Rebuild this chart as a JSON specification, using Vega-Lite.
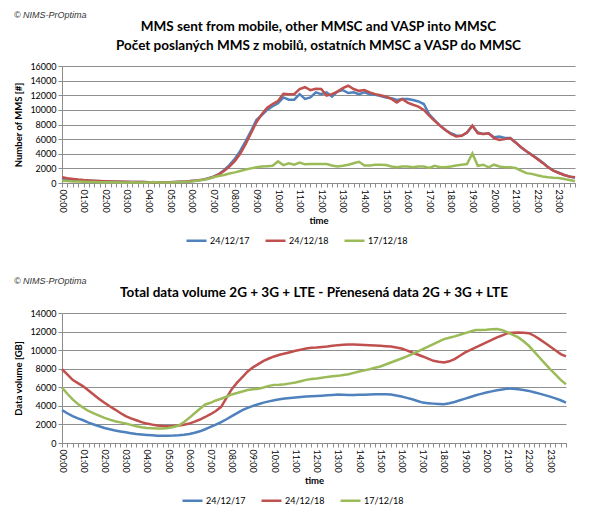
{
  "$schema": "https://vega.github.io/schema/vega-lite/v6.json",
  "padding": {"left": 13, "top": 10, "right": 5, "bottom": 2},
  "background": "white",
  "config": {
    "font": "Lato",
    "view": {"stroke": null},
    "axis": {
      "labelFont": "Lato", "labelFontSize": 9, "labelColor": "#000",
      "titleFont": "Lato", "titleFontSize": 9.5, "titleFontWeight": "bold", "titleColor": "#000",
      "domainColor": "#8c8c8c", "tickColor": "#8c8c8c", "gridColor": "#8f8f8f", "gridOpacity": 1
    },
    "axisX": {"grid": false, "labelAngle": 90, "tickSize": 4, "labelOverlap": false, "labelPadding": 2, "titlePadding": 3},
    "axisY": {"tickSize": 4, "titlePadding": 6},
    "legend": {
      "labelFont": "Lato", "labelFontSize": 9, "labelColor": "#000",
      "symbolType": "stroke", "symbolSize": 400, "symbolStrokeWidth": 3.5,
      "columnPadding": 10, "labelOffset": 2, "offset": 4,
      "layout": {"bottom": {"anchor": "middle"}}
    },
    "title": {"font": "Lato", "color": "#000"},
    "line": {"strokeWidth": 2.5}
  },
  "datasets": {
    "mms": [
      {"t": "00:00", "24/12/17": 600, "24/12/18": 780, "17/12/18": 320},
      {"t": "00:15", "24/12/17": 520, "24/12/18": 660, "17/12/18": 260},
      {"t": "00:30", "24/12/17": 450, "24/12/18": 560, "17/12/18": 220},
      {"t": "00:45", "24/12/17": 390, "24/12/18": 470, "17/12/18": 190},
      {"t": "01:00", "24/12/17": 340, "24/12/18": 400, "17/12/18": 160},
      {"t": "01:15", "24/12/17": 300, "24/12/18": 350, "17/12/18": 140},
      {"t": "01:30", "24/12/17": 270, "24/12/18": 310, "17/12/18": 120},
      {"t": "01:45", "24/12/17": 240, "24/12/18": 280, "17/12/18": 110},
      {"t": "02:00", "24/12/17": 220, "24/12/18": 250, "17/12/18": 100},
      {"t": "02:15", "24/12/17": 200, "24/12/18": 220, "17/12/18": 90},
      {"t": "02:30", "24/12/17": 180, "24/12/18": 200, "17/12/18": 110},
      {"t": "02:45", "24/12/17": 160, "24/12/18": 180, "17/12/18": 80},
      {"t": "03:00", "24/12/17": 150, "24/12/18": 160, "17/12/18": 70},
      {"t": "03:15", "24/12/17": 140, "24/12/18": 150, "17/12/18": 100},
      {"t": "03:30", "24/12/17": 130, "24/12/18": 130, "17/12/18": 60},
      {"t": "03:45", "24/12/17": 120, "24/12/18": 120, "17/12/18": 60},
      {"t": "04:00", "24/12/17": 110, "24/12/18": 110, "17/12/18": 60},
      {"t": "04:15", "24/12/17": 100, "24/12/18": 100, "17/12/18": 150},
      {"t": "04:30", "24/12/17": 100, "24/12/18": 100, "17/12/18": 60},
      {"t": "04:45", "24/12/17": 100, "24/12/18": 100, "17/12/18": 60},
      {"t": "05:00", "24/12/17": 110, "24/12/18": 110, "17/12/18": 70},
      {"t": "05:15", "24/12/17": 130, "24/12/18": 130, "17/12/18": 90},
      {"t": "05:30", "24/12/17": 160, "24/12/18": 160, "17/12/18": 120},
      {"t": "05:45", "24/12/17": 200, "24/12/18": 200, "17/12/18": 160},
      {"t": "06:00", "24/12/17": 270, "24/12/18": 270, "17/12/18": 220},
      {"t": "06:15", "24/12/17": 350, "24/12/18": 350, "17/12/18": 300},
      {"t": "06:30", "24/12/17": 460, "24/12/18": 460, "17/12/18": 400},
      {"t": "06:45", "24/12/17": 620, "24/12/18": 600, "17/12/18": 550},
      {"t": "07:00", "24/12/17": 850, "24/12/18": 820, "17/12/18": 780},
      {"t": "07:15", "24/12/17": 1200, "24/12/18": 1150, "17/12/18": 950},
      {"t": "07:30", "24/12/17": 1750, "24/12/18": 1650, "17/12/18": 1100},
      {"t": "07:45", "24/12/17": 2450, "24/12/18": 2250, "17/12/18": 1300},
      {"t": "08:00", "24/12/17": 3300, "24/12/18": 3000, "17/12/18": 1450},
      {"t": "08:15", "24/12/17": 4400, "24/12/18": 4000, "17/12/18": 1650},
      {"t": "08:30", "24/12/17": 5700, "24/12/18": 5300, "17/12/18": 1850},
      {"t": "08:45", "24/12/17": 7100, "24/12/18": 6800, "17/12/18": 2000},
      {"t": "09:00", "24/12/17": 8600, "24/12/18": 8300, "17/12/18": 2150},
      {"t": "09:15", "24/12/17": 9300, "24/12/18": 9400, "17/12/18": 2250},
      {"t": "09:30", "24/12/17": 10000, "24/12/18": 10300, "17/12/18": 2300},
      {"t": "09:45", "24/12/17": 10500, "24/12/18": 10800, "17/12/18": 2350},
      {"t": "10:00", "24/12/17": 10900, "24/12/18": 11200, "17/12/18": 2950},
      {"t": "10:15", "24/12/17": 11700, "24/12/18": 12200, "17/12/18": 2450},
      {"t": "10:30", "24/12/17": 11400, "24/12/18": 12150, "17/12/18": 2700},
      {"t": "10:45", "24/12/17": 11400, "24/12/18": 12150, "17/12/18": 2500},
      {"t": "11:00", "24/12/17": 12150, "24/12/18": 12850, "17/12/18": 2800},
      {"t": "11:15", "24/12/17": 11500, "24/12/18": 13100, "17/12/18": 2550},
      {"t": "11:30", "24/12/17": 11700, "24/12/18": 12700, "17/12/18": 2600},
      {"t": "11:45", "24/12/17": 12400, "24/12/18": 12900, "17/12/18": 2600},
      {"t": "12:00", "24/12/17": 12150, "24/12/18": 12850, "17/12/18": 2600},
      {"t": "12:15", "24/12/17": 12400, "24/12/18": 11950, "17/12/18": 2600},
      {"t": "12:30", "24/12/17": 11800, "24/12/18": 12150, "17/12/18": 2400},
      {"t": "12:45", "24/12/17": 12500, "24/12/18": 12500, "17/12/18": 2250},
      {"t": "13:00", "24/12/17": 12700, "24/12/18": 12980, "17/12/18": 2350},
      {"t": "13:15", "24/12/17": 12300, "24/12/18": 13300, "17/12/18": 2500},
      {"t": "13:30", "24/12/17": 12400, "24/12/18": 12850, "17/12/18": 2700},
      {"t": "13:45", "24/12/17": 12150, "24/12/18": 12600, "17/12/18": 2900},
      {"t": "14:00", "24/12/17": 12400, "24/12/18": 12700, "17/12/18": 2400},
      {"t": "14:15", "24/12/17": 12150, "24/12/18": 12400, "17/12/18": 2400},
      {"t": "14:30", "24/12/17": 12050, "24/12/18": 12150, "17/12/18": 2500},
      {"t": "14:45", "24/12/17": 11900, "24/12/18": 12000, "17/12/18": 2500},
      {"t": "15:00", "24/12/17": 11700, "24/12/18": 11800, "17/12/18": 2450},
      {"t": "15:15", "24/12/17": 11600, "24/12/18": 11500, "17/12/18": 2250},
      {"t": "15:30", "24/12/17": 11350, "24/12/18": 11000, "17/12/18": 2150},
      {"t": "15:45", "24/12/17": 11500, "24/12/18": 11500, "17/12/18": 2250},
      {"t": "16:00", "24/12/17": 11500, "24/12/18": 11000, "17/12/18": 2250},
      {"t": "16:15", "24/12/17": 11350, "24/12/18": 10700, "17/12/18": 2150},
      {"t": "16:30", "24/12/17": 11150, "24/12/18": 10450, "17/12/18": 2250},
      {"t": "16:45", "24/12/17": 10800, "24/12/18": 10000, "17/12/18": 2250},
      {"t": "17:00", "24/12/17": 9400, "24/12/18": 9200, "17/12/18": 2050},
      {"t": "17:15", "24/12/17": 8600, "24/12/18": 8500, "17/12/18": 2350},
      {"t": "17:30", "24/12/17": 7850, "24/12/18": 7850, "17/12/18": 2150},
      {"t": "17:45", "24/12/17": 7250, "24/12/18": 7250, "17/12/18": 2150},
      {"t": "18:00", "24/12/17": 6800, "24/12/18": 6700, "17/12/18": 2250},
      {"t": "18:15", "24/12/17": 6500, "24/12/18": 6350, "17/12/18": 2400},
      {"t": "18:30", "24/12/17": 6450, "24/12/18": 6450, "17/12/18": 2500},
      {"t": "18:45", "24/12/17": 6900, "24/12/18": 6900, "17/12/18": 2600},
      {"t": "19:00", "24/12/17": 7800, "24/12/18": 7850, "17/12/18": 4050},
      {"t": "19:15", "24/12/17": 6900, "24/12/18": 6800, "17/12/18": 2350},
      {"t": "19:30", "24/12/17": 6700, "24/12/18": 6700, "17/12/18": 2500},
      {"t": "19:45", "24/12/17": 6800, "24/12/18": 6800, "17/12/18": 2150},
      {"t": "20:00", "24/12/17": 6250, "24/12/18": 6150, "17/12/18": 2500},
      {"t": "20:15", "24/12/17": 6350, "24/12/18": 5900, "17/12/18": 2250},
      {"t": "20:30", "24/12/17": 6150, "24/12/18": 6000, "17/12/18": 2150},
      {"t": "20:45", "24/12/17": 6150, "24/12/18": 6150, "17/12/18": 2150},
      {"t": "21:00", "24/12/17": 5550, "24/12/18": 5550, "17/12/18": 2050},
      {"t": "21:15", "24/12/17": 4900, "24/12/18": 4900, "17/12/18": 1700},
      {"t": "21:30", "24/12/17": 4350, "24/12/18": 4350, "17/12/18": 1350},
      {"t": "21:45", "24/12/17": 3850, "24/12/18": 3830, "17/12/18": 1250},
      {"t": "22:00", "24/12/17": 3350, "24/12/18": 3300, "17/12/18": 1050},
      {"t": "22:15", "24/12/17": 2800, "24/12/18": 2750, "17/12/18": 900},
      {"t": "22:30", "24/12/17": 2200, "24/12/18": 2150, "17/12/18": 780},
      {"t": "22:45", "24/12/17": 1700, "24/12/18": 1700, "17/12/18": 720},
      {"t": "23:00", "24/12/17": 1400, "24/12/18": 1370, "17/12/18": 680},
      {"t": "23:15", "24/12/17": 1100, "24/12/18": 1100, "17/12/18": 550},
      {"t": "23:30", "24/12/17": 900, "24/12/18": 870, "17/12/18": 420},
      {"t": "23:45", "24/12/17": 700, "24/12/18": 780, "17/12/18": 240}
    ],
    "vol": [
      {"t": "00:00", "24/12/17": 3540, "24/12/18": 7940, "17/12/18": 5960},
      {"t": "00:15", "24/12/17": 3200, "24/12/18": 7400, "17/12/18": 5300},
      {"t": "00:30", "24/12/17": 2890, "24/12/18": 6800, "17/12/18": 4690},
      {"t": "00:45", "24/12/17": 2650, "24/12/18": 6450, "17/12/18": 4200},
      {"t": "01:00", "24/12/17": 2450, "24/12/18": 6100, "17/12/18": 3790},
      {"t": "01:15", "24/12/17": 2200, "24/12/18": 5650, "17/12/18": 3450},
      {"t": "01:30", "24/12/17": 1990, "24/12/18": 5200, "17/12/18": 3180},
      {"t": "01:45", "24/12/17": 1800, "24/12/18": 4750, "17/12/18": 2950},
      {"t": "02:00", "24/12/17": 1620, "24/12/18": 4330, "17/12/18": 2710},
      {"t": "02:15", "24/12/17": 1480, "24/12/18": 3950, "17/12/18": 2520},
      {"t": "02:30", "24/12/17": 1340, "24/12/18": 3600, "17/12/18": 2350},
      {"t": "02:45", "24/12/17": 1250, "24/12/18": 3230, "17/12/18": 2220},
      {"t": "03:00", "24/12/17": 1160, "24/12/18": 2890, "17/12/18": 2090},
      {"t": "03:15", "24/12/17": 1060, "24/12/18": 2650, "17/12/18": 1950},
      {"t": "03:30", "24/12/17": 970, "24/12/18": 2450, "17/12/18": 1800},
      {"t": "03:45", "24/12/17": 920, "24/12/18": 2250, "17/12/18": 1700},
      {"t": "04:00", "24/12/17": 870, "24/12/18": 2090, "17/12/18": 1620},
      {"t": "04:15", "24/12/17": 830, "24/12/18": 1980, "17/12/18": 1580},
      {"t": "04:30", "24/12/17": 790, "24/12/18": 1880, "17/12/18": 1550},
      {"t": "04:45", "24/12/17": 790, "24/12/18": 1830, "17/12/18": 1570},
      {"t": "05:00", "24/12/17": 790, "24/12/18": 1800, "17/12/18": 1620},
      {"t": "05:15", "24/12/17": 800, "24/12/18": 1820, "17/12/18": 1730},
      {"t": "05:30", "24/12/17": 830, "24/12/18": 1880, "17/12/18": 1880},
      {"t": "05:45", "24/12/17": 890, "24/12/18": 1970, "17/12/18": 2250},
      {"t": "06:00", "24/12/17": 970, "24/12/18": 2090, "17/12/18": 2710},
      {"t": "06:15", "24/12/17": 1100, "24/12/18": 2300, "17/12/18": 3200},
      {"t": "06:30", "24/12/17": 1260, "24/12/18": 2530, "17/12/18": 3680},
      {"t": "06:45", "24/12/17": 1480, "24/12/18": 2800, "17/12/18": 4150},
      {"t": "07:00", "24/12/17": 1730, "24/12/18": 3100, "17/12/18": 4330},
      {"t": "07:15", "24/12/17": 1980, "24/12/18": 3450, "17/12/18": 4580},
      {"t": "07:30", "24/12/17": 2240, "24/12/18": 3900, "17/12/18": 4770},
      {"t": "07:45", "24/12/17": 2560, "24/12/18": 4850, "17/12/18": 4980},
      {"t": "08:00", "24/12/17": 2890, "24/12/18": 5800, "17/12/18": 5230},
      {"t": "08:15", "24/12/17": 3220, "24/12/18": 6500, "17/12/18": 5380},
      {"t": "08:30", "24/12/17": 3540, "24/12/18": 7100, "17/12/18": 5550},
      {"t": "08:45", "24/12/17": 3780, "24/12/18": 7700, "17/12/18": 5700},
      {"t": "09:00", "24/12/17": 4000, "24/12/18": 8150, "17/12/18": 5790},
      {"t": "09:15", "24/12/17": 4180, "24/12/18": 8500, "17/12/18": 5850},
      {"t": "09:30", "24/12/17": 4350, "24/12/18": 8850, "17/12/18": 5970},
      {"t": "09:45", "24/12/17": 4480, "24/12/18": 9100, "17/12/18": 6150},
      {"t": "10:00", "24/12/17": 4600, "24/12/18": 9320, "17/12/18": 6260},
      {"t": "10:15", "24/12/17": 4700, "24/12/18": 9500, "17/12/18": 6280},
      {"t": "10:30", "24/12/17": 4780, "24/12/18": 9640, "17/12/18": 6330},
      {"t": "10:45", "24/12/17": 4840, "24/12/18": 9780, "17/12/18": 6420},
      {"t": "11:00", "24/12/17": 4890, "24/12/18": 9930, "17/12/18": 6510},
      {"t": "11:15", "24/12/17": 4950, "24/12/18": 10050, "17/12/18": 6650},
      {"t": "11:30", "24/12/17": 5000, "24/12/18": 10180, "17/12/18": 6800},
      {"t": "11:45", "24/12/17": 5040, "24/12/18": 10250, "17/12/18": 6880},
      {"t": "12:00", "24/12/17": 5070, "24/12/18": 10290, "17/12/18": 6940},
      {"t": "12:15", "24/12/17": 5100, "24/12/18": 10350, "17/12/18": 7030},
      {"t": "12:30", "24/12/17": 5140, "24/12/18": 10400, "17/12/18": 7120},
      {"t": "12:45", "24/12/17": 5180, "24/12/18": 10470, "17/12/18": 7180},
      {"t": "13:00", "24/12/17": 5220, "24/12/18": 10540, "17/12/18": 7230},
      {"t": "13:15", "24/12/17": 5200, "24/12/18": 10580, "17/12/18": 7320},
      {"t": "13:30", "24/12/17": 5180, "24/12/18": 10610, "17/12/18": 7410},
      {"t": "13:45", "24/12/17": 5180, "24/12/18": 10600, "17/12/18": 7550},
      {"t": "14:00", "24/12/17": 5190, "24/12/18": 10580, "17/12/18": 7700},
      {"t": "14:15", "24/12/17": 5200, "24/12/18": 10560, "17/12/18": 7820},
      {"t": "14:30", "24/12/17": 5220, "24/12/18": 10540, "17/12/18": 7950},
      {"t": "14:45", "24/12/17": 5240, "24/12/18": 10500, "17/12/18": 8100},
      {"t": "15:00", "24/12/17": 5250, "24/12/18": 10470, "17/12/18": 8240},
      {"t": "15:15", "24/12/17": 5240, "24/12/18": 10420, "17/12/18": 8450},
      {"t": "15:30", "24/12/17": 5220, "24/12/18": 10380, "17/12/18": 8670},
      {"t": "15:45", "24/12/17": 5120, "24/12/18": 10280, "17/12/18": 8880},
      {"t": "16:00", "24/12/17": 5000, "24/12/18": 10180, "17/12/18": 9100},
      {"t": "16:15", "24/12/17": 4860, "24/12/18": 9970, "17/12/18": 9330},
      {"t": "16:30", "24/12/17": 4710, "24/12/18": 9750, "17/12/18": 9570},
      {"t": "16:45", "24/12/17": 4530, "24/12/18": 9530, "17/12/18": 9840},
      {"t": "17:00", "24/12/17": 4350, "24/12/18": 9320, "17/12/18": 10110},
      {"t": "17:15", "24/12/17": 4290, "24/12/18": 9080, "17/12/18": 10380},
      {"t": "17:30", "24/12/17": 4240, "24/12/18": 8850, "17/12/18": 10650},
      {"t": "17:45", "24/12/17": 4200, "24/12/18": 8750, "17/12/18": 10920},
      {"t": "18:00", "24/12/17": 4170, "24/12/18": 8670, "17/12/18": 11190},
      {"t": "18:15", "24/12/17": 4280, "24/12/18": 8800, "17/12/18": 11330},
      {"t": "18:30", "24/12/17": 4420, "24/12/18": 9030, "17/12/18": 11480},
      {"t": "18:45", "24/12/17": 4600, "24/12/18": 9400, "17/12/18": 11650},
      {"t": "19:00", "24/12/17": 4780, "24/12/18": 9750, "17/12/18": 11830},
      {"t": "19:15", "24/12/17": 4960, "24/12/18": 10020, "17/12/18": 12000},
      {"t": "19:30", "24/12/17": 5140, "24/12/18": 10290, "17/12/18": 12160},
      {"t": "19:45", "24/12/17": 5290, "24/12/18": 10560, "17/12/18": 12180},
      {"t": "20:00", "24/12/17": 5430, "24/12/18": 10830, "17/12/18": 12200},
      {"t": "20:15", "24/12/17": 5560, "24/12/18": 11100, "17/12/18": 12240},
      {"t": "20:30", "24/12/17": 5680, "24/12/18": 11370, "17/12/18": 12270},
      {"t": "20:45", "24/12/17": 5770, "24/12/18": 11600, "17/12/18": 12150},
      {"t": "21:00", "24/12/17": 5860, "24/12/18": 11830, "17/12/18": 11910},
      {"t": "21:15", "24/12/17": 5830, "24/12/18": 11880, "17/12/18": 11650},
      {"t": "21:30", "24/12/17": 5790, "24/12/18": 11910, "17/12/18": 11370},
      {"t": "21:45", "24/12/17": 5700, "24/12/18": 11880, "17/12/18": 10950},
      {"t": "22:00", "24/12/17": 5610, "24/12/18": 11830, "17/12/18": 10470},
      {"t": "22:15", "24/12/17": 5470, "24/12/18": 11550, "17/12/18": 9850},
      {"t": "22:30", "24/12/17": 5320, "24/12/18": 11190, "17/12/18": 9210},
      {"t": "22:45", "24/12/17": 5160, "24/12/18": 10800, "17/12/18": 8580},
      {"t": "23:00", "24/12/17": 5000, "24/12/18": 10400, "17/12/18": 7950},
      {"t": "23:15", "24/12/17": 4800, "24/12/18": 9980, "17/12/18": 7380},
      {"t": "23:30", "24/12/17": 4600, "24/12/18": 9570, "17/12/18": 6800},
      {"t": "23:45", "24/12/17": 4350, "24/12/18": 9320, "17/12/18": 6330}
    ]
  },
  "spacing": 30,
  "resolve": {"scale": {"color": "independent"}, "legend": {"color": "independent"}},
  "vconcat": [
    {
      "title": {"text": "© NIMS-PrOptima", "anchor": "start", "font": "Liberation Sans", "fontSize": 9, "fontStyle": "italic", "fontWeight": "normal", "color": "#333", "offset": 0},
      "vconcat": [
        {
          "data": {"name": "mms"},
          "title": {
            "text": ["MMS sent from mobile, other MMSC and VASP into MMSC", "Počet poslaných MMS z mobilů, ostatních MMSC a VASP do MMSC"],
            "fontSize": 13.5, "fontWeight": "bold", "lineHeight": 19, "anchor": "middle", "offset": 10
          },
          "width": 513,
          "height": 117,
          "transform": [{"fold": ["24/12/17", "24/12/18", "17/12/18"], "as": ["series", "value"]}],
          "mark": {"type": "line", "strokeWidth": 2.5},
          "encoding": {
            "x": {
              "field": "t", "type": "ordinal", "title": "time",
              "scale": {"type": "point", "padding": 0},
              "axis": {"labelExpr": "slice(datum.value, 3) == '00' ? datum.value : ''"}
            },
            "y": {
              "field": "value", "type": "quantitative", "title": "Number of MMS [#]",
              "scale": {"domain": [0, 16000], "nice": false},
              "axis": {"values": [0, 2000, 4000, 6000, 8000, 10000, 12000, 14000, 16000], "format": "d"}
            },
            "color": {
              "field": "series", "type": "nominal",
              "scale": {"domain": ["24/12/17", "24/12/18", "17/12/18"], "range": ["#4F81BD", "#C0504D", "#9BBB59"]},
              "legend": {"title": null, "orient": "bottom", "direction": "horizontal"}
            }
          }
        }
      ]
    },
    {
      "title": {"text": "© NIMS-PrOptima", "anchor": "start", "font": "Liberation Sans", "fontSize": 9, "fontStyle": "italic", "fontWeight": "normal", "color": "#333", "offset": 0},
      "vconcat": [
        {
          "data": {"name": "vol"},
          "title": {
            "text": "Total data volume 2G + 3G + LTE - Přenesená data 2G + 3G + LTE",
            "fontSize": 13.5, "fontWeight": "bold", "anchor": "middle", "offset": 10
          },
          "width": 504,
          "height": 130,
          "transform": [{"fold": ["24/12/17", "24/12/18", "17/12/18"], "as": ["series", "value"]}],
          "mark": {"type": "line", "strokeWidth": 2.5},
          "encoding": {
            "x": {
              "field": "t", "type": "ordinal", "title": "time",
              "scale": {"type": "point", "padding": 0},
              "axis": {"labelExpr": "slice(datum.value, 3) == '00' ? datum.value : ''"}
            },
            "y": {
              "field": "value", "type": "quantitative", "title": "Data volume [GB]",
              "scale": {"domain": [0, 14000], "nice": false},
              "axis": {"values": [0, 2000, 4000, 6000, 8000, 10000, 12000, 14000], "format": "d"}
            },
            "color": {
              "field": "series", "type": "nominal",
              "scale": {"domain": ["24/12/17", "24/12/18", "17/12/18"], "range": ["#4F81BD", "#C0504D", "#9BBB59"]},
              "legend": {"title": null, "orient": "bottom", "direction": "horizontal"}
            }
          }
        }
      ]
    }
  ]
}
